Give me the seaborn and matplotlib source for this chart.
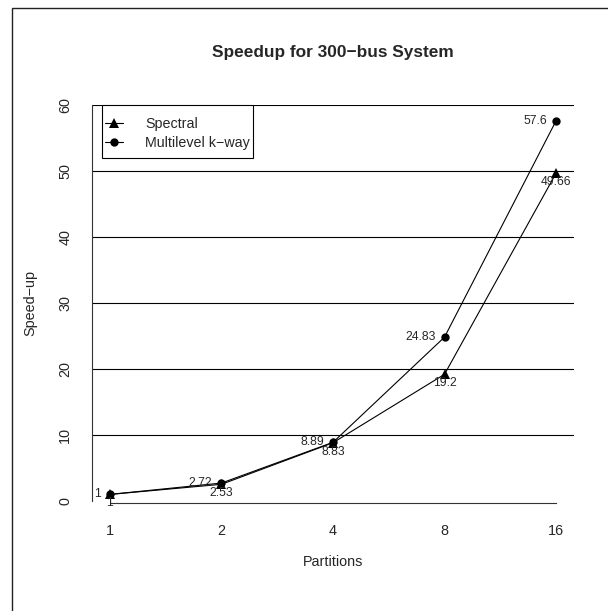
import matplotlib
matplotlib.use("Agg")
import matplotlib.pyplot as plt
from matplotlib.patches import Rectangle
from matplotlib.lines import Line2D
import seaborn as sns
import pandas as pd

# ---- data ----
partitions = [1, 2, 4, 8, 16]
spectral = [1, 2.53, 8.83, 19.2, 49.66]
multilevel = [1, 2.72, 8.89, 24.83, 57.6]
spectral_labels = ["1", "2.53", "8.83", "19.2", "49.66"]
multilevel_labels = ["1", "2.72", "8.89", "24.83", "57.6"]
y_ticks = [0, 10, 20, 30, 40, 50, 60]
grid_levels = [10, 20, 30, 40, 50, 60]
title = "Speedup for 300\u2212bus System"
xlabel = "Partitions"
ylabel = "Speed\u2212up"
series_names = ["Spectral", "Multilevel k\u2212way"]

sns.set_style("white")
plt.rcParams["font.family"] = ["Liberation Sans", "DejaVu Sans"]

W, H = 608, 611
fig = plt.figure(figsize=(W / 100, H / 100), dpi=100)

# axes placement (pixels)
left_px, right_px, top_px, bottom_px = 92, 574, 105, 503
ax = fig.add_axes([left_px / W, 1 - bottom_px / H,
                   (right_px - left_px) / W, (bottom_px - top_px) / H])

ax.set_xscale("log", base=2)

df_s = pd.DataFrame({"x": partitions, "y": spectral})
df_m = pd.DataFrame({"x": partitions, "y": multilevel})

for lv in grid_levels:
    ax.axhline(lv, color="black", lw=0.8, zorder=1)

sns.lineplot(data=df_s, x="x", y="y", ax=ax, color="black", lw=0.8,
             marker="^", markersize=7, markeredgewidth=0, zorder=3)
sns.lineplot(data=df_m, x="x", y="y", ax=ax, color="black", lw=0.8,
             marker="o", markersize=6, markeredgewidth=0, zorder=3)

ax.set_xlim(2 ** -0.161, 2 ** 4.161)
ax.set_ylim(-0.303, 60)

for x, y, t in zip(partitions, spectral, spectral_labels):
    ax.annotate(t, (x, y), xytext=(0, -9), textcoords="offset pixels",
                ha="center", va="center", fontsize=8.7, zorder=4)
for x, y, t in zip(partitions, multilevel, multilevel_labels):
    ax.annotate(t, (x, y), xytext=(-9, 0), textcoords="offset pixels",
                ha="right", va="center", fontsize=8.7, zorder=4)

ax.set_xticks(partitions)
ax.set_xticklabels([str(p) for p in partitions])
ax.minorticks_off()
ax.set_yticks(y_ticks)
ax.set_yticklabels([str(v) for v in y_ticks], rotation=90, va="center")
ax.tick_params(axis="both", labelsize=10.4, length=6.2, width=0.8,
               color="#333333", direction="out")
ax.tick_params(axis="x", pad=9)
ax.tick_params(axis="y", pad=8)
ax.set_xlabel("")
ax.set_ylabel("")

for s in ["top", "right"]:
    ax.spines[s].set_visible(False)
ax.spines["left"].set_bounds(0, 60)
ax.spines["bottom"].set_bounds(1, 16)
for s in ["left", "bottom"]:
    ax.spines[s].set_color("#333333")
    ax.spines[s].set_linewidth(0.8)

# legend (frame drawn as a separate box, R style)
ax.add_patch(Rectangle((102 / W, 1 - 158 / H), (253 - 102) / W, (158 - 105) / H,
                       transform=fig.transFigure, fill=True, fc="white",
                       lw=0.8, ec="black", zorder=4.5, clip_on=False))
handles = [
    Line2D([], [], color="black", lw=0.8, marker="^", markersize=7, markeredgewidth=0),
    Line2D([], [], color="black", lw=0.8, marker="o", markersize=6, markeredgewidth=0),
]
leg = ax.legend(handles, series_names, loc="upper left",
                bbox_to_anchor=(105 / W, 1 - 117 / H),
                bbox_transform=fig.transFigure, borderaxespad=0,
                fontsize=10.3, frameon=False, handlelength=1.27,
                handletextpad=1.55, labelspacing=0.32, borderpad=0)
leg.set_zorder(6)

fig.text(333 / W, 1 - 53 / H, title, ha="center", va="center",
         fontsize=12.4, fontweight="bold")
fig.text(333 / W, 1 - 562 / H, xlabel, ha="center", va="center", fontsize=10.4)
fig.text(30 / W, 1 - 303 / H, ylabel, ha="center", va="center",
         fontsize=10.4, rotation=90)

fig.add_artist(Rectangle((12 / W, -0.05), 1.2, (H - 8) / H + 0.05,
                         transform=fig.transFigure, fill=False,
                         lw=1.0, ec="#222222", clip_on=False))

fig.savefig("out.png", dpi=100)
